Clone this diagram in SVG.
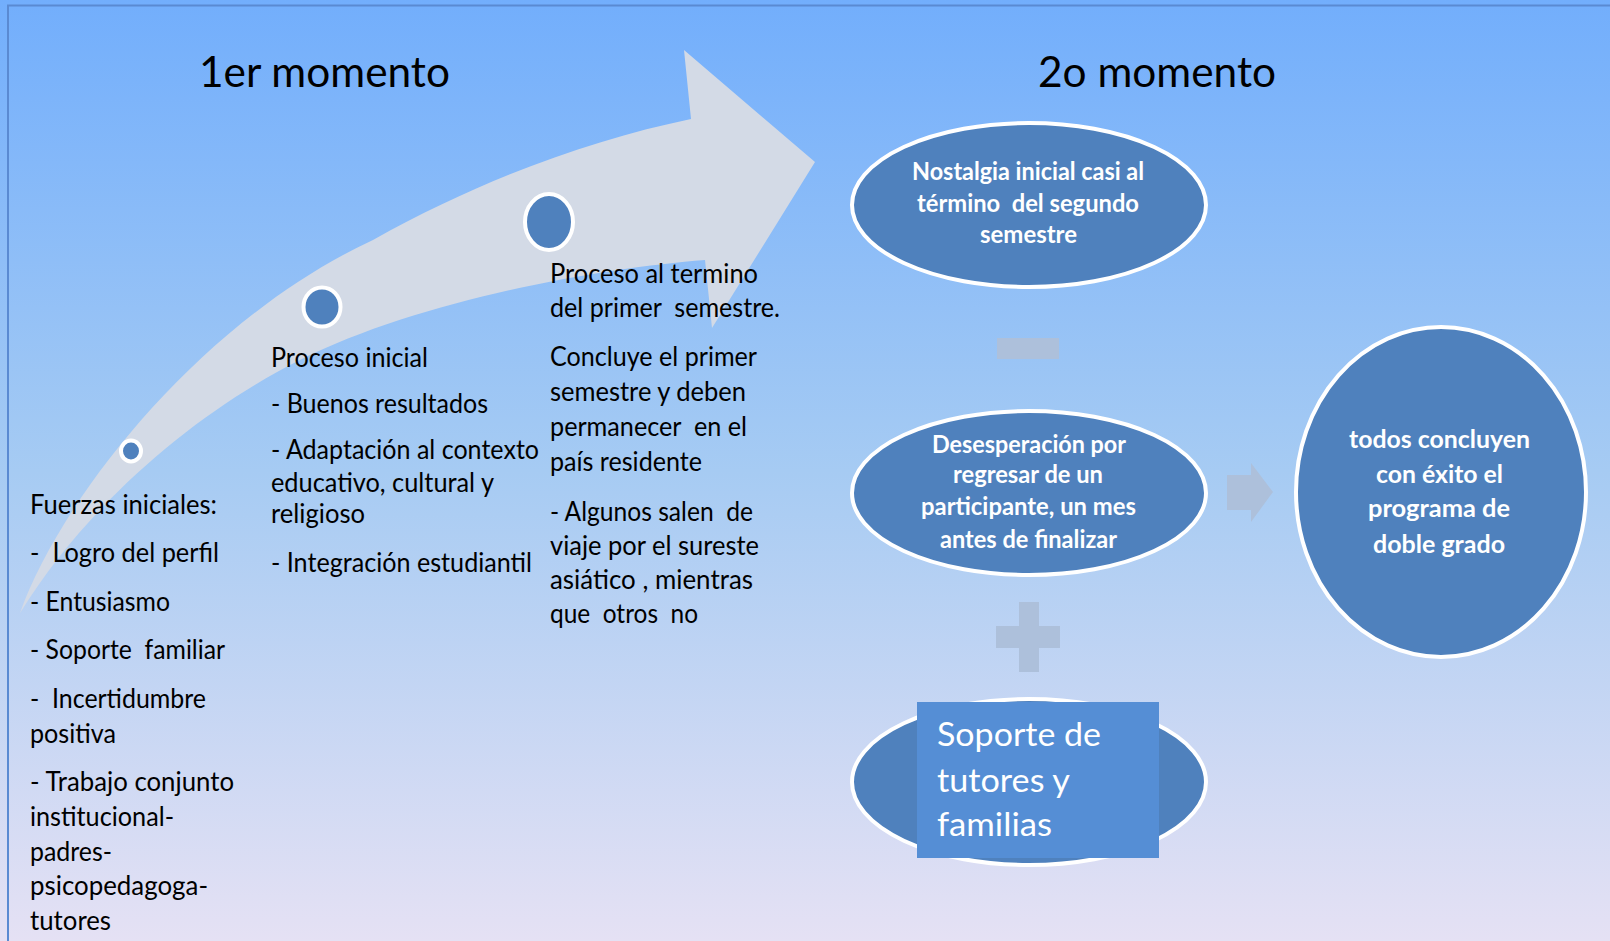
<svg xmlns="http://www.w3.org/2000/svg" width="1610" height="941" viewBox="0 0 1610 941">
<defs>
<linearGradient id="bg" x1="0" y1="0" x2="0" y2="1">
<stop offset="0" stop-color="#72aefc"/>
<stop offset="0.5" stop-color="#a6cbf3"/>
<stop offset="1" stop-color="#e5e1f4"/>
</linearGradient>
</defs>
<style>
text{font-family:Lato,"Liberation Sans",sans-serif;white-space:pre}
.t{font-size:43px;fill:#000}
.b{font-size:27px;fill:#000}
.w{font-size:25px;fill:#fff;font-weight:bold}
.s{font-size:32px;fill:#fff}
.node{fill:#4f81bd;stroke:#fff;stroke-width:4}
.op{fill:#adc0db}
</style>
<rect x="0" y="0" width="1610" height="941" fill="url(#bg)"/>
<path d="M8,941 V5.5 H1610" fill="none" stroke="#5a8ad2" stroke-width="2"/>

<g id="connectors">
<path id="big-arrow" fill="#d3dae6" d="M20,613 C60,500 200,320 373,240 C480,180 590,140 691,119 L684,50 L815,162 L712,328 L705,260 C600,268 420,300 300,360 C200,410 90,500 20,613 Z"/>
<rect class="op" x="997" y="338" width="62" height="21"/>
<rect class="op" x="1019" y="602" width="20" height="70"/>
<rect class="op" x="996" y="626" width="64" height="22"/>
<path class="op" d="M1227,475 H1251 V463 L1273,492 L1251,522 V510 H1227 Z"/>
</g>

<g id="titles">
<text class="t" x="199" y="87" textLength="251" lengthAdjust="spacingAndGlyphs">1er momento</text>
<text class="t" x="1038" y="87" textLength="238" lengthAdjust="spacingAndGlyphs">2o momento</text>
</g>

<g id="dot1"><ellipse class="node" cx="131" cy="451" rx="10" ry="10.5" stroke-width="3"/></g>
<g id="dot2"><ellipse class="node" cx="322" cy="307" rx="18.5" ry="19.5"/></g>
<g id="dot3"><ellipse class="node" cx="549" cy="222" rx="24" ry="28"/></g>

<g id="fuerzas">
<text class="b" x="30" y="514" textLength="187" lengthAdjust="spacingAndGlyphs">Fuerzas iniciales:</text>
<text class="b" x="30" y="562" textLength="189" lengthAdjust="spacingAndGlyphs">-  Logro del perfil</text>
<text class="b" x="30" y="611" textLength="140" lengthAdjust="spacingAndGlyphs">- Entusiasmo</text>
<text class="b" x="30" y="659" textLength="195" lengthAdjust="spacingAndGlyphs">- Soporte  familiar</text>
<text class="b" x="30" y="708" textLength="176" lengthAdjust="spacingAndGlyphs">-  Incertidumbre</text>
<text class="b" x="30" y="743" textLength="86" lengthAdjust="spacingAndGlyphs">positiva</text>
<text class="b" x="30" y="791" textLength="204" lengthAdjust="spacingAndGlyphs">- Trabajo conjunto</text>
<text class="b" x="30" y="826" textLength="144" lengthAdjust="spacingAndGlyphs">institucional-</text>
<text class="b" x="30" y="861" textLength="82" lengthAdjust="spacingAndGlyphs">padres-</text>
<text class="b" x="30" y="895" textLength="178" lengthAdjust="spacingAndGlyphs">psicopedagoga-</text>
<text class="b" x="30" y="930" textLength="81" lengthAdjust="spacingAndGlyphs">tutores</text>
</g>

<g id="proceso-inicial">
<text class="b" x="271" y="367" textLength="157" lengthAdjust="spacingAndGlyphs">Proceso inicial</text>
<text class="b" x="271" y="413" textLength="217" lengthAdjust="spacingAndGlyphs">- Buenos resultados</text>
<text class="b" x="271" y="459" textLength="268" lengthAdjust="spacingAndGlyphs">- Adaptación al contexto</text>
<text class="b" x="271" y="492" textLength="223" lengthAdjust="spacingAndGlyphs">educativo, cultural y</text>
<text class="b" x="271" y="523" textLength="94" lengthAdjust="spacingAndGlyphs">religioso</text>
<text class="b" x="271" y="572" textLength="261" lengthAdjust="spacingAndGlyphs">- Integración estudiantil</text>
</g>

<g id="proceso-termino">
<text class="b" x="550" y="283" textLength="208" lengthAdjust="spacingAndGlyphs">Proceso al termino</text>
<text class="b" x="550" y="317" textLength="230" lengthAdjust="spacingAndGlyphs">del primer  semestre.</text>
<text class="b" x="550" y="366" textLength="207" lengthAdjust="spacingAndGlyphs">Concluye el primer</text>
<text class="b" x="550" y="401" textLength="196" lengthAdjust="spacingAndGlyphs">semestre y deben</text>
<text class="b" x="550" y="436" textLength="197" lengthAdjust="spacingAndGlyphs">permanecer  en el</text>
<text class="b" x="550" y="471" textLength="152" lengthAdjust="spacingAndGlyphs">país residente</text>
<text class="b" x="550" y="521" textLength="203" lengthAdjust="spacingAndGlyphs">- Algunos salen  de</text>
<text class="b" x="550" y="555" textLength="209" lengthAdjust="spacingAndGlyphs">viaje por el sureste</text>
<text class="b" x="550" y="589" textLength="203" lengthAdjust="spacingAndGlyphs">asiático , mientras</text>
<text class="b" x="550" y="623" textLength="148" lengthAdjust="spacingAndGlyphs">que  otros  no</text>
</g>

<g id="nostalgia">
<ellipse class="node" cx="1029" cy="205" rx="177" ry="82"/>
<text class="w" x="912" y="180" textLength="232" lengthAdjust="spacingAndGlyphs">Nostalgia inicial casi al</text>
<text class="w" x="917" y="212" textLength="222" lengthAdjust="spacingAndGlyphs">término  del segundo</text>
<text class="w" x="980" y="243" textLength="97" lengthAdjust="spacingAndGlyphs">semestre</text>
</g>

<g id="desesperacion">
<ellipse class="node" cx="1029" cy="493" rx="177" ry="82"/>
<text class="w" x="932" y="453" textLength="194" lengthAdjust="spacingAndGlyphs">Desesperación por</text>
<text class="w" x="953" y="483" textLength="150" lengthAdjust="spacingAndGlyphs">regresar de un</text>
<text class="w" x="921" y="515" textLength="215" lengthAdjust="spacingAndGlyphs">participante, un mes</text>
<text class="w" x="940" y="548" textLength="177" lengthAdjust="spacingAndGlyphs">antes de finalizar</text>
</g>

<g id="concluyen">
<ellipse class="node" cx="1441" cy="492" rx="145" ry="165"/>
<text class="w" x="1349" y="448" textLength="181" lengthAdjust="spacingAndGlyphs">todos concluyen</text>
<text class="w" x="1376" y="483" textLength="127" lengthAdjust="spacingAndGlyphs">con éxito el</text>
<text class="w" x="1368" y="517" textLength="142" lengthAdjust="spacingAndGlyphs">programa de</text>
<text class="w" x="1373" y="553" textLength="132" lengthAdjust="spacingAndGlyphs">doble grado</text>
</g>

<g id="soporte">
<ellipse class="node" cx="1029" cy="782" rx="177" ry="83"/>
<rect x="917" y="702" width="242" height="156" fill="#558ed5"/>
<text class="s" x="937" y="746" textLength="164" lengthAdjust="spacingAndGlyphs">Soporte de</text>
<text class="s" x="937" y="792" textLength="133" lengthAdjust="spacingAndGlyphs">tutores y</text>
<text class="s" x="937" y="836" textLength="115" lengthAdjust="spacingAndGlyphs">familias</text>
</g>
</svg>
